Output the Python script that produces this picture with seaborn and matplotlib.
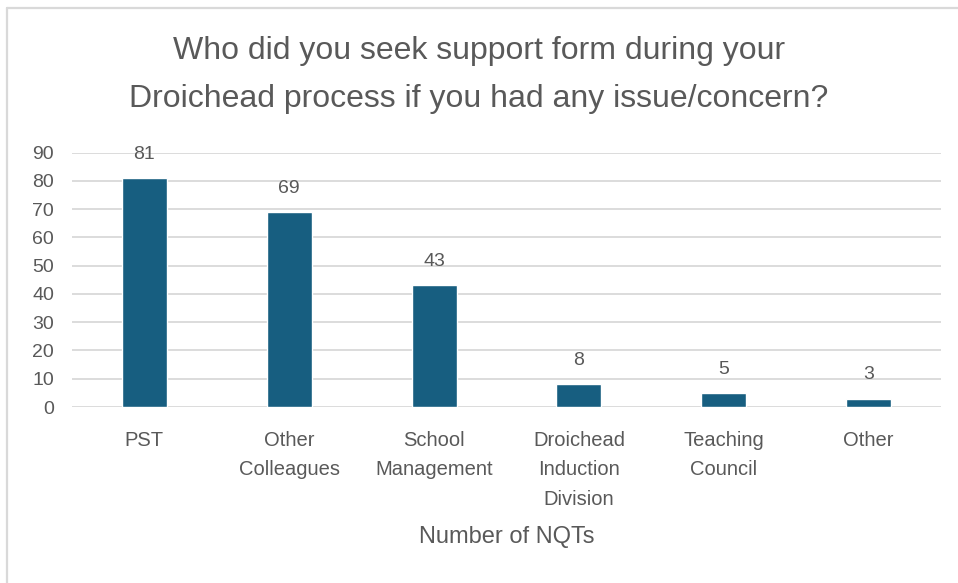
import matplotlib
matplotlib.use("Agg")
import matplotlib.pyplot as plt
from matplotlib.lines import Line2D
import seaborn as sns
import pandas as pd

categories = ["PST", "Other\nColleagues", "School\nManagement",
              "Droichead\nInduction\nDivision", "Teaching\nCouncil", "Other"]
counts = [81, 69, 43, 8, 5, 3]
y_ticks = [0, 10, 20, 30, 40, 50, 60, 70, 80, 90]

title_text = "Who did you seek support form during your\nDroichead process if you had any issue/concern?"
xlabel_text = "Number of NQTs"

BAR = "#175e80"
TXT = "#595959"
GRID = "#d9d9d9"

sns.set_theme(style="white")
plt.rcParams["font.family"] = ["Liberation Sans", "DejaVu Sans"]

df = pd.DataFrame({"category": categories, "count": counts})

fig = plt.figure(figsize=(9.58, 5.83), dpi=100)
ax = fig.add_axes([72 / 958, 1 - 407 / 583, 869 / 958, (407 - 152.6) / 583])

sns.barplot(data=df, x="category", y="count", color=BAR, width=0.31,
            saturation=1, ax=ax, zorder=3)

ax.set_ylim(0, 90)
ax.set_xlim(-0.5, len(categories) - 0.5)
ax.set_yticks(y_ticks)
ax.yaxis.grid(True, color=GRID, linewidth=1.3, zorder=0)
ax.set_axisbelow(True)
for s in ax.spines.values():
    s.set_visible(False)
ax.tick_params(axis="y", length=0, labelsize=14, labelcolor=TXT, pad=13)
ax.tick_params(axis="x", length=0, labelsize=14.5, labelcolor=TXT, pad=17)
for lbl in ax.get_xticklabels():
    lbl.set_linespacing(1.72)

ax.set_ylabel("")
ax.set_xlabel(xlabel_text, fontsize=17, color=TXT, labelpad=12)

for i, v in enumerate(counts):
    ax.annotate(str(v), (i, v), xytext=(0, 17), textcoords="offset points",
                ha="center", va="center", fontsize=14, color=TXT)

fig.text(0.5, 1 - 75 / 583, title_text, ha="center", va="center",
         fontsize=23, color=TXT, linespacing=1.75)

# light outer frame along the top and left edges
fig.add_artist(Line2D([6.5 / 958, 1], [1 - 7.5 / 583, 1 - 7.5 / 583],
                      color=GRID, linewidth=1.6, transform=fig.transFigure))
fig.add_artist(Line2D([6.5 / 958, 6.5 / 958], [0, 1 - 7.5 / 583],
                      color=GRID, linewidth=1.6, transform=fig.transFigure))

fig.savefig("out.png", dpi=100, facecolor="white")
